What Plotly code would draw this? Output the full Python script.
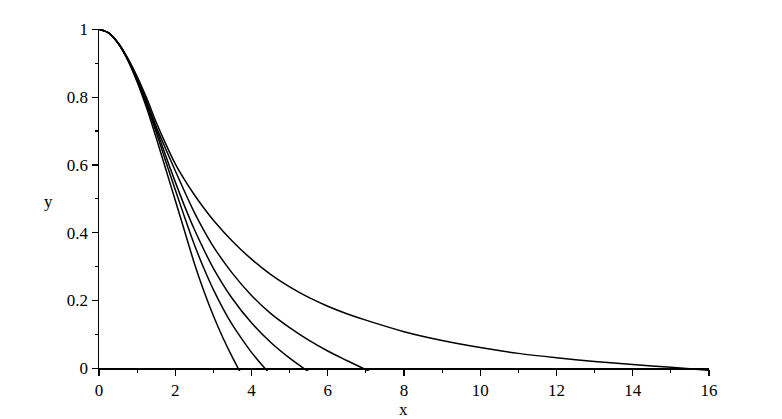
import plotly.graph_objects as go

# Curve data
x1 = [0, 0.25, 0.5, 0.75, 1, 1.25, 1.5, 1.75, 2, 2.25, 2.5, 2.75, 3, 3.25, 3.5, 3.65, 3.8]
y1 = [1, 0.9897, 0.9591, 0.910, 0.845, 0.768, 0.68, 0.588, 0.496, 0.403, 0.31, 0.228, 0.155, 0.09, 0.032, 0, -0.03]

x2 = [0, 0.25, 0.5, 0.75, 1, 1.25, 1.5, 1.75, 2, 2.25, 2.5, 2.75, 3, 3.25, 3.5, 3.75, 4, 4.35, 4.5]
y2 = [1, 0.9897, 0.9594, 0.912, 0.849, 0.776, 0.696, 0.611, 0.527, 0.444, 0.365, 0.295, 0.232, 0.177,
      0.128, 0.086, 0.047, 0, -0.018]

x3 = [0, 0.25, 0.5, 0.75, 1, 1.25, 1.5, 1.75, 2, 2.25, 2.5, 2.75, 3, 3.5, 4, 4.5, 5, 5.37, 5.55]
y3 = [1, 0.9897, 0.9597, 0.913, 0.852, 0.782, 0.706, 0.627, 0.55, 0.477, 0.41, 0.35, 0.295, 0.205,
      0.134, 0.077, 0.03, 0, -0.014]

x4 = [0, 0.25, 0.5, 0.75, 1, 1.25, 1.5, 1.75, 2, 2.25, 2.5, 2.75, 3, 3.5, 4, 4.5, 5, 5.5, 6, 6.5, 6.92, 7.1]
y4 = [1, 0.9897, 0.9599, 0.914, 0.855, 0.788, 0.713, 0.647, 0.583, 0.52, 0.46, 0.407, 0.359, 0.28,
      0.215, 0.162, 0.12, 0.083, 0.051, 0.023, 0, -0.01]

x5 = [0, 0.25, 0.5, 0.75, 1, 1.25, 1.5, 1.75, 2, 2.25, 2.5, 2.75, 3, 3.5, 4, 4.5, 5, 5.5, 6, 6.5, 7,
      8, 9, 10, 11, 12, 13, 14, 15, 16]
y5 = [1, 0.9897, 0.9604, 0.916, 0.861, 0.797, 0.726, 0.662, 0.603, 0.555, 0.512, 0.473, 0.437, 0.375,
      0.322, 0.277, 0.24, 0.209, 0.183, 0.161, 0.142, 0.108, 0.082, 0.061, 0.044, 0.031, 0.02,
      0.011, 0.003, -0.006]

x_ticks = [0, 2, 4, 6, 8, 10, 12, 14, 16]
y_ticks = [0, 0.2, 0.4, 0.6, 0.8, 1]
y_tick_text = ["0", "0.2", "0.4", "0.6", "0.8", "1"]

FONT = "Times New Roman, Liberation Serif, Tinos, DejaVu Serif, serif"
FSIZE = 17
YMIN, YMAX = -0.008, 1.001

fig = go.Figure()
for xs, ys in [(x1, y1), (x2, y2), (x3, y3), (x4, y4), (x5, y5)]:
    fig.add_trace(go.Scatter(x=xs, y=ys, mode="lines",
                             line=dict(color="black", width=1.5, shape="spline", smoothing=0.8),
                             showlegend=False, hoverinfo="skip"))

tickstyle = dict(ticks="outside", ticklen=6, tickwidth=1.2, tickcolor="black")
fig.update_layout(
    width=782, height=419,
    margin=dict(l=99, r=73, t=29, b=48),
    paper_bgcolor="white", plot_bgcolor="white",
    font=dict(family=FONT, size=FSIZE, color="black"),
    hovermode=False,
    xaxis=dict(range=[0, 16], tickvals=x_ticks, showgrid=False, zeroline=False,
               showline=True, linecolor="black", linewidth=1.5, **tickstyle,
               minor=dict(dtick=1, ticks="outside", ticklen=3, tickwidth=1.2, tickcolor="black"),
               anchor="free", position=(0 - YMIN) / (YMAX - YMIN),
               tickfont=dict(family=FONT, size=FSIZE, color="black")),
    yaxis=dict(range=[YMIN, YMAX], tickvals=y_ticks, ticktext=y_tick_text, showgrid=False,
               zeroline=False, showline=True, linecolor="black", linewidth=1.5, **tickstyle,
               minor=dict(dtick=0.1, tick0=0, ticks="outside", ticklen=3, tickwidth=1.2, tickcolor="black"),
               tickfont=dict(family=FONT, size=FSIZE, color="black")),
    annotations=[
        dict(text="x", xref="paper", yref="paper", x=(403 - 99) / 610, y=(371 - 409) / 342,
             showarrow=False, font=dict(family=FONT, size=FSIZE, color="black"),
             xanchor="center", yanchor="middle"),
        dict(text="y", xref="paper", yref="paper", x=(48 - 99) / 610, y=(371 - 202) / 342,
             showarrow=False, font=dict(family=FONT, size=FSIZE, color="black"),
             xanchor="center", yanchor="middle"),
    ],
)

fig.write_html("out.html",
               config={"displayModeBar": False, "staticPlot": True},
               post_script="document.body.style.margin='0';document.body.style.overflow='hidden';")
